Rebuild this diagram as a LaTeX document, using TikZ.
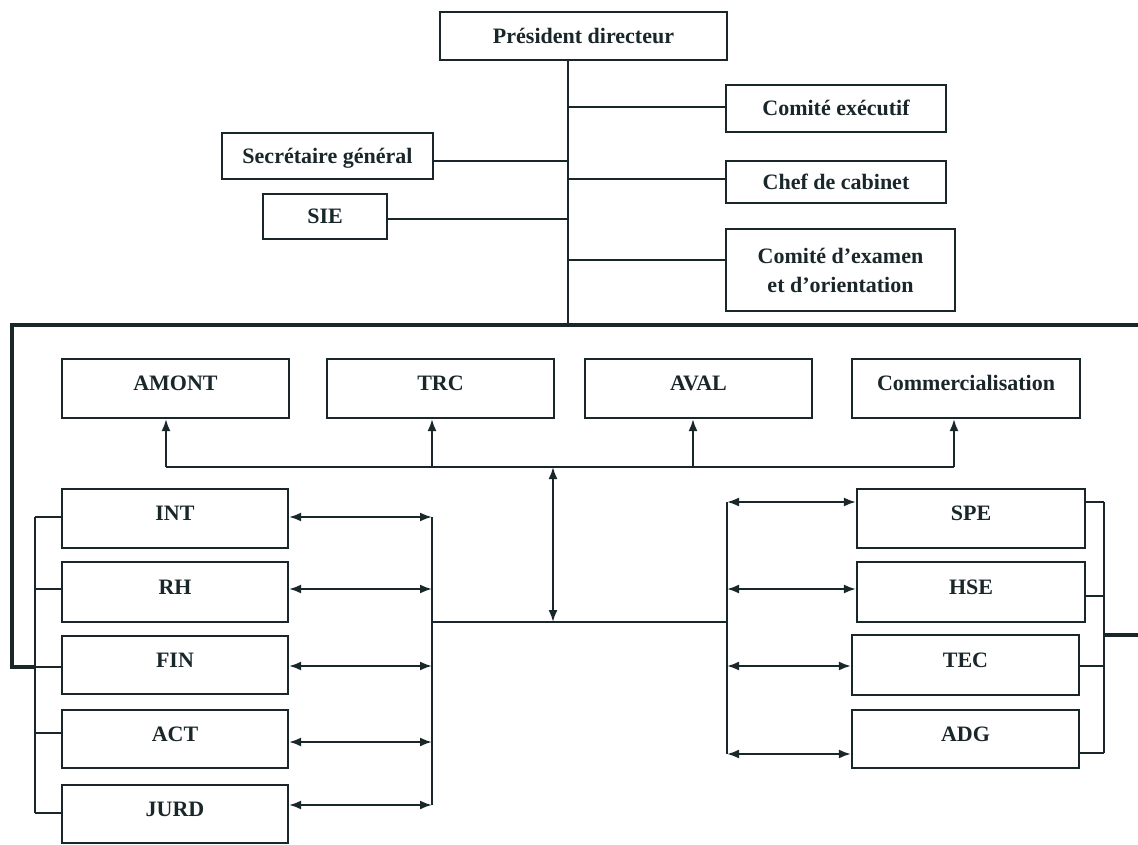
\documentclass[tikz,border=0pt]{standalone}
\usepackage{fontspec}
\setmainfont{Liberation Serif}
\usetikzlibrary{arrows.meta}
\definecolor{ink}{RGB}{25,38,42}
\tikzset{
  unit/.style={box, text height=15pt, text depth=0pt},
  unitlow/.style={box, text height=15pt, text depth=11pt},
  box/.style={draw=ink, line width=2.2pt, fill=white, inner sep=0pt,
    text=ink, font=\bfseries\fontsize{22}{29}\selectfont, align=center},
  wire/.style={draw=ink, line width=2pt},
  frame/.style={draw=ink, line width=4.5pt},
  tip/.style={-{Latex[length=12pt,width=9pt]}},
  tips/.style={{Latex[length=12pt,width=9pt]}-{Latex[length=12pt,width=9pt]}}
}
\begin{document}
\begin{tikzpicture}[x=1pt,y=-1pt]
\useasboundingbox (0,0) rectangle (1138,845);
\fill[white] (0,0) rectangle (1138,845);

% Direction générale
\node[unit, minimum width=287pt, minimum height=48pt] (pd) at (583.5,36) {Président directeur};
\node[unit, minimum width=220pt, minimum height=47pt] (ce) at (836,108.5) {Comité exécutif};
\node[unit, minimum width=211pt, minimum height=46pt] (sg) at (327.5,156) {Secrétaire général};
\node[unit, minimum width=220pt, minimum height=42pt] (cc) at (836,182) {Chef de cabinet};
\node[unit, minimum width=124pt, minimum height=45pt] (sie) at (325,216.5) {SIE};
\node[box, minimum width=229pt, minimum height=82pt] (cex) at (840.5,270) {Comité d’examen\\et d’orientation};

% Activités
\node[unitlow, minimum width=227pt, minimum height=59pt] (amont) at (175.5,388.5) {AMONT};
\node[unitlow, minimum width=227pt, minimum height=59pt] (trc) at (440.5,388.5) {TRC};
\node[unitlow, minimum width=227pt, minimum height=59pt] (aval) at (698.5,388.5) {AVAL};
\node[unitlow, minimum width=228pt, minimum height=59pt] (comm) at (966,388.5) {Commercialisation};

% Directions fonctionnelles
\node[unitlow, minimum width=226pt, minimum height=59pt] (int) at (175,518.5) {INT};
\node[unitlow, minimum width=226pt, minimum height=60pt] (rh) at (175,592) {RH};
\node[unitlow, minimum width=226pt, minimum height=58pt] (fin) at (175,665) {FIN};
\node[unitlow, minimum width=226pt, minimum height=58pt] (act) at (175,739) {ACT};
\node[unitlow, minimum width=226pt, minimum height=58pt] (jurd) at (175,814) {JURD};

\node[unitlow, minimum width=228pt, minimum height=59pt] (spe) at (971,518.5) {SPE};
\node[unitlow, minimum width=228pt, minimum height=60pt] (hse) at (971,592) {HSE};
\node[unitlow, minimum width=227pt, minimum height=60pt] (tec) at (965.5,665) {TEC};
\node[unitlow, minimum width=227pt, minimum height=58pt] (adg) at (965.5,739) {ADG};

% Points de raccordement
\coordinate (spine) at (568,325);
\coordinate (ubus) at (553,467);
\coordinate (hub) at (553,622);
\coordinate (lbus) at (432,622);
\coordinate (rbus) at (727,622);
\coordinate (farL) at (35,667);
\coordinate (farR) at (1104,635);
\coordinate (frameL) at (12,325);
\coordinate (frameR) at (1138,325);
\coordinate (edgeR) at (1138,635);

% Tronc vertical et branches
\draw[wire] (pd.south -| spine) -- (spine);
\draw[wire] ([yshift=1.5pt]ce.west) -- ([yshift=1.5pt]ce.west -| spine);
\draw[wire] ([yshift=-5pt]sg.east) -- ([yshift=-5pt]sg.east -| spine);
\draw[wire] ([yshift=3pt]cc.west) -- ([yshift=3pt]cc.west -| spine);
\draw[wire] ([yshift=-2.5pt]sie.east) -- ([yshift=-2.5pt]sie.east -| spine);
\draw[wire] ([yshift=10pt]cex.west) -- ([yshift=10pt]cex.west -| spine);

% Cadre épais
\draw[frame] (farL) -- (frameL |- farL) -- (frameL) -- (frameR);
\draw[frame] (farR) -- (edgeR);

% Liaison vers les activités
\draw[wire] ([xshift=-9.5pt]amont.south |- ubus) -- ([xshift=-12pt]comm.south |- ubus);
\draw[wire,tip] ([xshift=-9.5pt]amont.south |- ubus) -- ([xshift=-9.5pt]amont.south);
\draw[wire,tip] ([xshift=-8.5pt]trc.south |- ubus) -- ([xshift=-8.5pt]trc.south);
\draw[wire,tip] ([xshift=-5.5pt]aval.south |- ubus) -- ([xshift=-5.5pt]aval.south);
\draw[wire,tip] ([xshift=-12pt]comm.south |- ubus) -- ([xshift=-12pt]comm.south);
\draw[wire,tips] (ubus) -- (hub);
\draw[wire] (lbus) -- (rbus);

% Bus gauche
\draw[wire] ([yshift=1.5pt]int.east -| lbus) -- ([yshift=9pt]jurd.east -| lbus);
\draw[wire,tips] ([yshift=1.5pt]int.east) -- ([yshift=1.5pt]int.east -| lbus);
\draw[wire,tips] ([yshift=3pt]rh.east) -- ([yshift=3pt]rh.east -| lbus);
\draw[wire,tips] ([yshift=-1pt]fin.east) -- ([yshift=-1pt]fin.east -| lbus);
\draw[wire,tips] ([yshift=-3pt]act.east) -- ([yshift=-3pt]act.east -| lbus);
\draw[wire,tips] ([yshift=9pt]jurd.east) -- ([yshift=9pt]jurd.east -| lbus);

\draw[wire] ([yshift=1.5pt]int.west -| farL) -- ([yshift=1pt]jurd.west -| farL);
\draw[wire] ([yshift=1.5pt]int.west) -- ([yshift=1.5pt]int.west -| farL);
\draw[wire] ([yshift=3pt]rh.west) -- ([yshift=3pt]rh.west -| farL);
\draw[wire] ([yshift=-2pt]fin.west) -- ([yshift=-2pt]fin.west -| farL);
\draw[wire] ([yshift=6pt]act.west) -- ([yshift=6pt]act.west -| farL);
\draw[wire] ([yshift=1pt]jurd.west) -- ([yshift=1pt]jurd.west -| farL);

% Bus droit
\draw[wire] ([yshift=16.5pt]spe.west -| rbus) -- ([yshift=-15pt]adg.west -| rbus);
\draw[wire,tips] ([yshift=16.5pt]spe.west -| rbus) -- ([yshift=16.5pt]spe.west);
\draw[wire,tips] ([yshift=3pt]hse.west -| rbus) -- ([yshift=3pt]hse.west);
\draw[wire,tips] ([yshift=-1pt]tec.west -| rbus) -- ([yshift=-1pt]tec.west);
\draw[wire,tips] ([yshift=-15pt]adg.west -| rbus) -- ([yshift=-15pt]adg.west);

\draw[wire] ([yshift=16.5pt]spe.east -| farR) -- ([yshift=-14pt]adg.east -| farR);
\draw[wire] ([yshift=16.5pt]spe.east) -- ([yshift=16.5pt]spe.east -| farR);
\draw[wire] ([yshift=-4pt]hse.east) -- ([yshift=-4pt]hse.east -| farR);
\draw[wire] ([yshift=-1pt]tec.east) -- ([yshift=-1pt]tec.east -| farR);
\draw[wire] ([yshift=-14pt]adg.east) -- ([yshift=-14pt]adg.east -| farR);
\end{tikzpicture}
\end{document}
